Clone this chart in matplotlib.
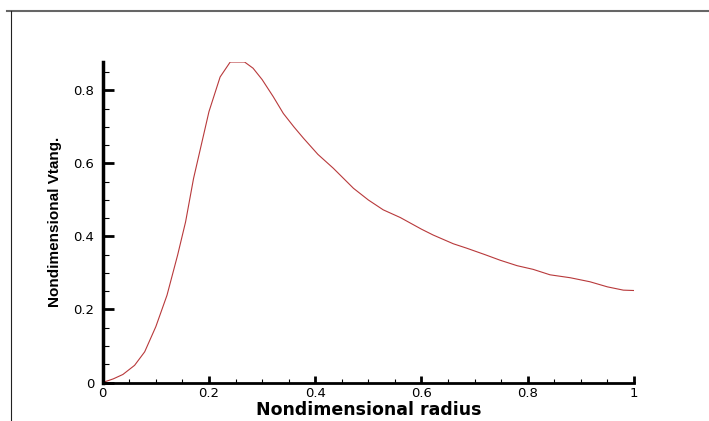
import matplotlib
matplotlib.use("Agg")
import matplotlib.pyplot as plt
from matplotlib.lines import Line2D
from matplotlib.ticker import MultipleLocator, FuncFormatter

# values
radius = [0.0, 0.02, 0.038, 0.06, 0.079, 0.1, 0.121, 0.141, 0.156, 0.171,
          0.184, 0.2, 0.221, 0.24, 0.267, 0.283, 0.3, 0.321, 0.34, 0.36,
          0.378, 0.405, 0.434, 0.472, 0.5, 0.528, 0.56, 0.6, 0.622, 0.66,
          0.685, 0.72, 0.748, 0.78, 0.81, 0.842, 0.88, 0.917, 0.95, 0.98, 1.0]
vtang = [0.0, 0.01, 0.022, 0.047, 0.084, 0.153, 0.239, 0.349, 0.44, 0.559,
         0.641, 0.742, 0.837, 0.878, 0.878, 0.861, 0.83, 0.783, 0.737, 0.70,
         0.669, 0.625, 0.587, 0.532, 0.50, 0.473, 0.452, 0.42, 0.404, 0.38,
         0.368, 0.35, 0.335, 0.32, 0.31, 0.295, 0.287, 0.276, 0.262, 0.253, 0.252]

fig = plt.figure(figsize=(7.09, 4.21), dpi=100)
W, H = 709, 421
ax = fig.add_axes([102.7 / W, 1 - 382.5 / H, (634 - 102.7) / W, (382.5 - 62) / H])

ax.plot(radius, vtang, color="#b8393b", lw=0.8)

ax.set_xlim(0, 1)
ax.set_ylim(0, 0.878)

for s in ["top", "right"]:
    ax.spines[s].set_visible(False)
ax.spines["left"].set_linewidth(2.5)
ax.spines["bottom"].set_linewidth(2)

ax.xaxis.set_major_locator(MultipleLocator(0.2))
ax.xaxis.set_minor_locator(MultipleLocator(0.05))
ax.yaxis.set_major_locator(MultipleLocator(0.2))
ax.yaxis.set_minor_locator(MultipleLocator(0.05))
fmt = FuncFormatter(lambda v, p: "%g" % round(v, 3))
ax.xaxis.set_major_formatter(fmt)
ax.yaxis.set_major_formatter(fmt)

ax.tick_params(axis="y", which="major", direction="in", length=8, width=2, pad=6)
ax.tick_params(axis="y", which="minor", direction="in", length=4.5, width=0.8)
ax.tick_params(axis="x", which="major", direction="in", length=5, width=2, pad=3)
ax.tick_params(axis="x", which="minor", direction="in", length=3, width=0.8)
for lab in ax.get_xticklabels() + ax.get_yticklabels():
    lab.set_fontfamily("DejaVu Sans")
    lab.set_fontsize(9.5)

ax.set_xlabel("Nondimensional radius", fontfamily="DejaVu Sans",
              fontweight="bold", fontsize=12.5, labelpad=1)
ax.set_ylabel("Nondimensional Vtang.", fontfamily="Liberation Sans",
              fontweight="bold", fontsize=11, labelpad=8)

# frame lines around the picture
fig.add_artist(Line2D([7 / W, 1], [1 - 11 / H, 1 - 11 / H], color="#666666", lw=1.5))
fig.add_artist(Line2D([11 / W, 11 / W], [0, 1 - 11 / H], color="#222222", lw=0.8))

fig.savefig("out.png", dpi=100)
